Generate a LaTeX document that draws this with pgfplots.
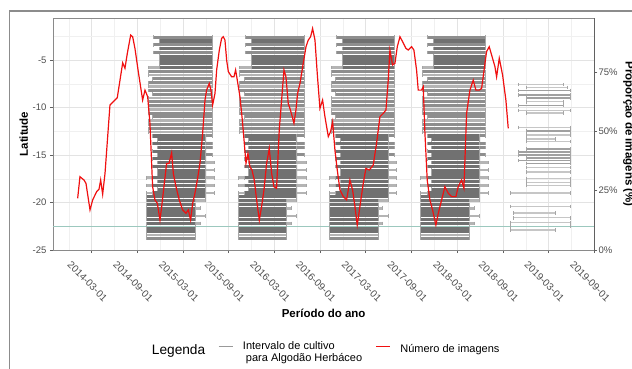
\documentclass[border=0pt]{standalone}
\usepackage{fontspec}
\setmainfont{Liberation Sans}
\usepackage{pgfplots}
\pgfplotsset{compat=1.18}
\definecolor{barD}{HTML}{717171}
\definecolor{barM}{HTML}{8E8E8E}
\definecolor{barL}{HTML}{B4B4B4}
\definecolor{nineM}{HTML}{A0A0A0}
\definecolor{nineL}{HTML}{C6C6C6}
\definecolor{capc}{HTML}{A6A6A6}
\definecolor{gridc}{HTML}{E3E3E3}
\definecolor{gridm}{HTML}{F0F0F0}
\definecolor{axc}{HTML}{8A8A8A}
\definecolor{tickc}{HTML}{4D4D4D}
\definecolor{refl}{HTML}{9CC8BE}
\definecolor{redl}{HTML}{F01010}
\definecolor{framec}{HTML}{8C8C8C}
\definecolor{keyc}{HTML}{999999}
\begin{document}
\begin{tikzpicture}
\begin{axis}[
  at={(53pt,-250pt)}, anchor=south west,
  scale only axis, width=541.3pt, height=232pt,
  xmin=-3.08, xmax=68, ymin=-25, ymax=-0.58,
  xtick={2,8,...,68},
  xticklabels={2014-03-01,2014-09-01,2015-03-01,2015-09-01,2016-03-01,2016-09-01,2017-03-01,2017-09-01,2018-03-01,2018-09-01,2019-03-01,2019-09-01},
  minor xtick={-1,5,...,65},
  ytick={-25,-20,-15,-10,-5},
  yticklabels={-25,-20,-15,-10,-5},
  minor ytick={-22.5,-17.5,-12.5,-7.5,-2.5},
  xtick pos=bottom, ytick pos=left,
  tick align=outside,
  major tick length=3pt, minor tick length=0pt,
  grid=both,
  major grid style={gridc, line width=0.7pt},
  minor grid style={gridm, line width=0.45pt},
  axis line style={axc, line width=0.8pt},
  tick style={axc!70!black, line width=0.7pt},
  yticklabel style={font=\fontsize{9.5}{10}\selectfont, color=tickc},
  xticklabel style={font=\fontsize{10}{11}\selectfont, color=tickc, anchor=center, xshift=-4.2pt, yshift=-28.5pt, rotate=-45},
  every axis x label/.style={at={(axis description cs:0.5,-0.2716)}, anchor=center, font=\fontsize{11.5}{12}\selectfont\bfseries},
  every axis y label/.style={at={(axis description cs:-0.0541,0.5)}, anchor=center, rotate=90, font=\fontsize{11.5}{12}\selectfont\bfseries},
  xlabel={Período do ano},
  ylabel={Latitude},
]
% light intervals
\addplot[barL, line width=2.6pt, mark=|, mark size=1.8pt, mark options={capc, line width=0.4pt}, empty line=jump] table {
9.4 -6.6
17.8 -6.6

9.4 -7.8
17.8 -7.8

9.4 -9.0
17.8 -9.0

9.4 -10.2
17.8 -10.2

9.4 -11.4
17.8 -11.4

9.4 -12.6
17.8 -12.6

16.9 -15.8
18.15 -15.8

16.9 -16.6
18.15 -16.6

16.9 -17.4
18.15 -17.4

16.9 -18.2
18.15 -18.2

16.9 -19.0
18.15 -19.0

9.2 -17.4
10.0 -17.4

9.2 -18.2
10.0 -18.2

9.2 -19.0
10.0 -19.0

15.6 -19.8
16.9 -19.8

15.6 -20.6
16.2 -20.6

15.6 -21.4
16.9 -21.4

15.6 -22.2
16.2 -22.2

9.2 -23.4
15.6 -23.4

9.4 -5.8
10.9 -5.8

21.4 -6.6
29.85 -6.6

21.4 -7.8
29.85 -7.8

21.4 -9.0
29.85 -9.0

21.4 -10.2
29.85 -10.2

21.4 -11.4
29.85 -11.4

21.4 -12.6
29.85 -12.6

28.9 -15.8
30.2 -15.8

28.9 -16.6
30.2 -16.6

28.9 -17.4
30.2 -17.4

28.9 -18.2
30.2 -18.2

28.9 -19.0
30.2 -19.0

21.2 -17.4
22.0 -17.4

21.2 -18.2
22.0 -18.2

21.2 -19.0
22.0 -19.0

27.6 -19.8
28.9 -19.8

27.6 -20.6
28.2 -20.6

27.6 -21.4
28.9 -21.4

27.6 -22.2
28.2 -22.2

21.2 -23.4
27.6 -23.4

21.4 -5.8
22.9 -5.8

33.4 -6.6
41.7 -6.6

33.4 -7.8
41.7 -7.8

33.4 -9.0
41.7 -9.0

33.4 -10.2
41.7 -10.2

33.4 -11.4
41.7 -11.4

33.4 -12.6
41.7 -12.6

40.9 -15.8
42.05 -15.8

40.9 -16.6
42.05 -16.6

40.9 -17.4
42.05 -17.4

40.9 -18.2
42.05 -18.2

40.9 -19.0
42.05 -19.0

33.2 -17.4
34.0 -17.4

33.2 -18.2
34.0 -18.2

33.2 -19.0
34.0 -19.0

39.6 -19.8
40.9 -19.8

39.6 -20.6
40.2 -20.6

39.6 -21.4
40.9 -21.4

39.6 -22.2
40.2 -22.2

33.2 -23.4
39.6 -23.4

33.4 -5.8
34.9 -5.8

45.4 -6.6
53.7 -6.6

45.4 -7.8
53.7 -7.8

45.4 -9.0
53.7 -9.0

45.4 -10.2
53.7 -10.2

45.4 -11.4
53.7 -11.4

45.4 -12.6
53.7 -12.6

52.9 -15.8
54.05 -15.8

52.9 -16.6
54.05 -16.6

52.9 -17.4
54.05 -17.4

52.9 -18.2
54.05 -18.2

52.9 -19.0
54.05 -19.0

45.2 -17.4
46.0 -17.4

45.2 -18.2
46.0 -18.2

45.2 -19.0
46.0 -19.0

51.6 -19.8
52.9 -19.8

51.6 -20.6
52.2 -20.6

51.6 -21.4
52.9 -21.4

51.6 -22.2
52.2 -22.2

45.2 -23.4
51.6 -23.4

45.4 -5.8
46.9 -5.8
};
% medium intervals
\addplot[barM, line width=3.0pt, mark=|, mark size=1.8pt, mark options={capc, line width=0.4pt}, empty line=jump] table {
10.1 -2.6
17.8 -2.6

10.1 -3.4
17.8 -3.4

10.1 -4.2
17.8 -4.2

9.4 -6.2
17.8 -6.2

10.0 -7.0
17.8 -7.0

9.4 -7.4
17.8 -7.4

9.4 -8.2
17.8 -8.2

10.0 -8.6
17.8 -8.6

9.4 -9.4
17.8 -9.4

9.4 -9.8
17.8 -9.8

9.4 -10.6
17.8 -10.6

10.0 -11.0
17.8 -11.0

9.4 -11.8
17.8 -11.8

9.4 -12.2
17.8 -12.2

16.9 -13.0
17.8 -13.0

16.9 -13.8
17.8 -13.8

16.9 -14.2
17.8 -14.2

16.9 -15.0
17.8 -15.0

9.2 -23.8
15.6 -23.8

22.1 -2.6
29.85 -2.6

22.1 -3.4
29.85 -3.4

22.1 -4.2
29.85 -4.2

21.4 -6.2
29.85 -6.2

22.0 -7.0
29.85 -7.0

21.4 -7.4
29.85 -7.4

21.4 -8.2
29.85 -8.2

22.0 -8.6
29.85 -8.6

21.4 -9.4
29.85 -9.4

21.4 -9.8
29.85 -9.8

21.4 -10.6
29.85 -10.6

22.0 -11.0
29.85 -11.0

21.4 -11.8
29.85 -11.8

21.4 -12.2
29.85 -12.2

28.9 -13.0
29.85 -13.0

28.9 -13.8
29.85 -13.8

28.9 -14.2
29.85 -14.2

28.9 -15.0
29.85 -15.0

21.2 -23.8
27.6 -23.8

34.1 -2.6
41.7 -2.6

34.1 -3.4
41.7 -3.4

34.1 -4.2
41.7 -4.2

33.4 -6.2
41.7 -6.2

34.0 -7.0
41.7 -7.0

33.4 -7.4
41.7 -7.4

33.4 -8.2
41.7 -8.2

34.0 -8.6
41.7 -8.6

33.4 -9.4
41.7 -9.4

33.4 -9.8
41.7 -9.8

33.4 -10.6
41.7 -10.6

34.0 -11.0
41.7 -11.0

33.4 -11.8
41.7 -11.8

33.4 -12.2
41.7 -12.2

40.9 -13.0
41.7 -13.0

40.9 -13.8
41.7 -13.8

40.9 -14.2
41.7 -14.2

40.9 -15.0
41.7 -15.0

33.2 -23.8
39.6 -23.8

46.1 -2.6
53.7 -2.6

46.1 -3.4
53.7 -3.4

46.1 -4.2
53.7 -4.2

45.4 -6.2
53.7 -6.2

46.0 -7.0
53.7 -7.0

45.4 -7.4
53.7 -7.4

45.4 -8.2
53.7 -8.2

46.0 -8.6
53.7 -8.6

45.4 -9.4
53.7 -9.4

45.4 -9.8
53.7 -9.8

45.4 -10.6
53.7 -10.6

46.0 -11.0
53.7 -11.0

45.4 -11.8
53.7 -11.8

45.4 -12.2
53.7 -12.2

52.9 -13.0
53.7 -13.0

52.9 -13.8
53.7 -13.8

52.9 -14.2
53.7 -14.2

52.9 -15.0
53.7 -15.0

45.2 -23.8
51.6 -23.8
};
% dark intervals
\addplot[barD, line width=3.3pt, mark=|, mark size=1.8pt, mark options={capc, line width=0.4pt}, empty line=jump] table {
10.9 -3.0
17.8 -3.0

10.9 -3.8
17.8 -3.8

10.9 -4.6
17.8 -4.6

10.9 -5.0
17.8 -5.0

10.9 -5.4
17.8 -5.4

10.9 -5.8
17.8 -5.8

10.0 -13.0
16.9 -13.0

10.6 -13.4
16.9 -13.4

10.0 -13.8
16.9 -13.8

10.6 -14.2
16.9 -14.2

10.0 -14.6
16.9 -14.6

10.6 -15.0
16.9 -15.0

10.0 -15.4
16.9 -15.4

10.6 -15.8
16.9 -15.8

10.0 -16.2
16.9 -16.2

10.6 -16.6
16.9 -16.6

10.6 -17.0
16.9 -17.0

10.0 -17.4
16.9 -17.4

10.6 -17.8
16.9 -17.8

10.0 -18.2
16.9 -18.2

10.6 -18.6
16.9 -18.6

10.0 -19.0
16.9 -19.0

9.2 -19.4
16.9 -19.4

9.2 -19.8
15.6 -19.8

9.2 -20.2
15.6 -20.2

9.2 -20.6
15.6 -20.6

9.2 -21.0
15.6 -21.0

9.2 -21.4
15.6 -21.4

9.2 -21.8
15.6 -21.8

9.2 -22.2
15.6 -22.2

9.2 -22.6
15.6 -22.6

9.2 -23.0
15.6 -23.0

22.9 -3.0
29.85 -3.0

22.9 -3.8
29.85 -3.8

22.9 -4.6
29.85 -4.6

22.9 -5.0
29.85 -5.0

22.9 -5.4
29.85 -5.4

22.9 -5.8
29.85 -5.8

22.0 -13.0
28.9 -13.0

22.6 -13.4
28.9 -13.4

22.0 -13.8
28.9 -13.8

22.6 -14.2
28.9 -14.2

22.0 -14.6
28.9 -14.6

22.6 -15.0
28.9 -15.0

22.0 -15.4
28.9 -15.4

22.6 -15.8
28.9 -15.8

22.0 -16.2
28.9 -16.2

22.6 -16.6
28.9 -16.6

22.6 -17.0
28.9 -17.0

22.0 -17.4
28.9 -17.4

22.6 -17.8
28.9 -17.8

22.0 -18.2
28.9 -18.2

22.6 -18.6
28.9 -18.6

22.0 -19.0
28.9 -19.0

21.2 -19.4
28.9 -19.4

21.2 -19.8
27.6 -19.8

21.2 -20.2
27.6 -20.2

21.2 -20.6
27.6 -20.6

21.2 -21.0
27.6 -21.0

21.2 -21.4
27.6 -21.4

21.2 -21.8
27.6 -21.8

21.2 -22.2
27.6 -22.2

21.2 -22.6
27.6 -22.6

21.2 -23.0
27.6 -23.0

34.9 -3.0
41.7 -3.0

34.9 -3.8
41.7 -3.8

34.9 -4.6
41.7 -4.6

34.9 -5.0
41.7 -5.0

34.9 -5.4
41.7 -5.4

34.9 -5.8
41.7 -5.8

34.0 -13.0
40.9 -13.0

34.6 -13.4
40.9 -13.4

34.0 -13.8
40.9 -13.8

34.6 -14.2
40.9 -14.2

34.0 -14.6
40.9 -14.6

34.6 -15.0
40.9 -15.0

34.0 -15.4
40.9 -15.4

34.6 -15.8
40.9 -15.8

34.0 -16.2
40.9 -16.2

34.6 -16.6
40.9 -16.6

34.6 -17.0
40.9 -17.0

34.0 -17.4
40.9 -17.4

34.6 -17.8
40.9 -17.8

34.0 -18.2
40.9 -18.2

34.6 -18.6
40.9 -18.6

34.0 -19.0
40.9 -19.0

33.2 -19.4
40.9 -19.4

33.2 -19.8
39.6 -19.8

33.2 -20.2
39.6 -20.2

33.2 -20.6
39.6 -20.6

33.2 -21.0
39.6 -21.0

33.2 -21.4
39.6 -21.4

33.2 -21.8
39.6 -21.8

33.2 -22.2
39.6 -22.2

33.2 -22.6
39.6 -22.6

33.2 -23.0
39.6 -23.0

46.9 -3.0
53.7 -3.0

46.9 -3.8
53.7 -3.8

46.9 -4.6
53.7 -4.6

46.9 -5.0
53.7 -5.0

46.9 -5.4
53.7 -5.4

46.9 -5.8
53.7 -5.8

46.0 -13.0
52.9 -13.0

46.6 -13.4
52.9 -13.4

46.0 -13.8
52.9 -13.8

46.6 -14.2
52.9 -14.2

46.0 -14.6
52.9 -14.6

46.6 -15.0
52.9 -15.0

46.0 -15.4
52.9 -15.4

46.6 -15.8
52.9 -15.8

46.0 -16.2
52.9 -16.2

46.6 -16.6
52.9 -16.6

46.6 -17.0
52.9 -17.0

46.0 -17.4
52.9 -17.4

46.6 -17.8
52.9 -17.8

46.0 -18.2
52.9 -18.2

46.6 -18.6
52.9 -18.6

46.0 -19.0
52.9 -19.0

45.2 -19.4
52.9 -19.4

45.2 -19.8
51.6 -19.8

45.2 -20.2
51.6 -20.2

45.2 -20.6
51.6 -20.6

45.2 -21.0
51.6 -21.0

45.2 -21.4
51.6 -21.4

45.2 -21.8
51.6 -21.8

45.2 -22.2
51.6 -22.2

45.2 -22.6
51.6 -22.6

45.2 -23.0
51.6 -23.0
};
% 2019 intervals, light
\addplot[nineL, line width=1.4pt, mark=|, mark size=1.8pt, mark options={capc, line width=0.4pt}, empty line=jump] table {
58.0 -7.6
63.9 -7.6

59.1 -7.9
64.4 -7.9

59.1 -9.4
63.9 -9.4

58.0 -10.3
64.9 -10.3

59.1 -10.6
63.9 -10.6

58.0 -12.1
64.9 -12.1

59.1 -12.9
64.9 -12.9

59.1 -13.3
62.8 -13.3

59.1 -13.6
64.9 -13.6

59.1 -16.3
64.9 -16.3

59.1 -16.8
64.9 -16.8

59.1 -17.5
64.9 -17.5

59.1 -17.9
64.9 -17.9

59.1 -18.2
64.9 -18.2

56.9 -19.0
64.9 -19.0

57.0 -20.4
64.9 -20.4

57.3 -21.1
62.8 -21.1

57.3 -21.6
64.9 -21.6

57.0 -22.1
64.9 -22.1

57.0 -22.5
64.9 -22.5

57.0 -22.9
62.8 -22.9
};
% 2019 intervals, denser
\addplot[nineM, line width=1.6pt, mark=|, mark size=1.8pt, mark options={capc, line width=0.4pt}, empty line=jump] table {
58.0 -8.2
64.9 -8.2

58.0 -8.7
64.9 -8.7

59.1 -9.0
64.9 -9.0

58.0 -9.8
63.9 -9.8

59.1 -12.5
64.9 -12.5

59.1 -14.4
64.9 -14.4

58.0 -14.7
64.9 -14.7

58.0 -15.0
64.9 -15.0

59.1 -15.3
64.9 -15.3

58.0 -15.6
64.9 -15.6

59.1 -15.9
64.9 -15.9
};
\addplot[refl, line width=0.8pt] coordinates {(-3.08,-22.47) (68,-22.47)};
\end{axis}
\begin{axis}[
  at={(53pt,-250pt)}, anchor=south west,
  scale only axis, width=541.3pt, height=232pt,
  xmin=-3.08, xmax=68, ymin=0, ymax=97.8,
  axis x line=none, axis y line*=right,
  ytick={0,25,50,75}, yticklabels={0\%,25\%,50\%,75\%},
  tick align=outside, major tick length=3pt,
  axis line style={axc!70!black, line width=0.8pt},
  tick style={axc!70!black, line width=0.7pt},
  yticklabel style={font=\fontsize{9.5}{10}\selectfont, color=tickc, inner sep=1pt},
  every axis y label/.style={at={(axis description cs:1.0632,0.5)}, anchor=center, rotate=-90, font=\fontsize{11.5}{12}\selectfont\bfseries},
  ylabel={Proporção de imagens (\%)},
  legend columns=2,
  legend image code/.code={\draw[#1] (0pt,3pt) -- (14pt,3pt);},
  legend style={at={(axis description cs:0.3048,-0.4285)}, anchor=west, draw=none, fill=none, inner sep=0pt, outer sep=0pt, font=\fontsize{11}{12}\selectfont, nodes={inner sep=0pt}, /tikz/every odd column/.append style={column sep=9.7pt}, /tikz/every even column/.append style={column sep=13.3pt}},
]
\addlegendimage{color=keyc, line width=1.3pt}
\addlegendentry{\begin{tabular}{@{}l@{}}Intervalo de cultivo\\\hspace{3pt}para Algodão Herbáceo\end{tabular}}
\addplot[redl, line width=1.2pt, mark=none] table {
0.16 21.8
0.46 30.9
0.99 29.5
1.25 28.1
1.78 16.9
2.13 21.1
2.65 24.6
2.96 25.6
3.18 29.5
3.44 23.5
3.75 32.3
4.40 61.1
5.06 63.2
5.36 64.2
6.07 78.9
6.37 76.6
6.68 82.9
7.12 90.6
7.38 89.9
7.68 85.0
8.12 75.2
8.69 63.2
9.00 67.4
9.35 64.6
9.65 53.4
10.00 26.7
10.31 21.1
10.62 19.7
10.97 12.6
11.19 18.3
11.49 26.7
11.84 36.5
12.15 36.5
12.50 41.0
12.72 32.3
13.07 26.7
13.50 21.1
13.94 16.9
14.38 15.5
14.69 16.9
14.99 12.6
15.26 19.7
15.56 23.9
15.87 29.5
16.22 36.5
16.57 49.2
16.88 63.2
17.09 67.4
17.44 70.2
17.66 67.4
17.88 61.1
18.19 66.0
18.41 75.9
18.76 84.3
19.06 89.2
19.28 89.9
19.50 88.5
19.72 80.1
19.94 75.2
20.38 73.0
20.68 73.0
20.90 75.9
21.12 71.6
21.47 64.6
21.78 54.8
22.04 45.0
22.26 36.5
22.52 40.7
22.78 35.1
23.05 33.7
23.35 29.5
23.66 21.1
24.01 12.6
24.31 18.3
24.62 25.3
24.97 36.5
25.32 42.8
25.63 32.3
25.93 26.7
26.28 26.0
26.63 50.6
26.94 63.2
27.25 75.9
27.51 73.0
27.81 61.8
28.03 59.7
28.34 56.2
28.56 53.4
28.82 59.0
29.04 66.0
29.35 70.2
29.78 78.7
30.14 85.7
30.44 88.5
30.75 89.9
31.01 93.4
31.32 88.5
31.62 74.4
31.97 59.7
32.32 63.2
32.63 56.2
33.07 47.8
33.37 49.9
33.64 54.1
33.94 42.1
34.25 33.7
34.60 25.3
35.04 22.5
35.47 21.1
35.91 29.5
36.26 25.3
36.57 18.3
36.87 10.5
37.22 18.3
37.66 28.1
38.01 34.4
38.45 33.7
38.97 35.8
39.41 45.0
39.85 56.2
40.29 57.6
40.64 59.0
40.94 71.6
41.16 84.3
41.51 78.0
41.82 78.7
42.13 85.7
42.48 89.9
42.83 87.8
43.26 85.0
43.57 84.3
44.01 85.7
44.31 84.3
44.66 75.9
44.88 67.4
45.32 67.4
45.54 68.8
45.76 49.2
46.06 29.5
46.41 21.1
46.76 16.9
47.20 10.5
47.51 15.5
47.95 21.1
48.38 26.7
48.82 23.9
49.26 22.5
49.83 22.5
50.13 26.7
50.57 29.5
50.88 26.0
51.23 57.6
51.67 67.4
52.10 71.6
52.45 67.4
52.89 67.4
53.20 68.1
53.50 75.2
53.85 83.6
54.20 85.7
54.64 80.8
54.95 77.3
55.17 73.0
55.52 80.8
55.96 73.7
56.13 69.5
56.39 63.2
56.70 51.3
};
\addlegendentry{Número de imagens}
\end{axis}
\pgfresetboundingbox
\useasboundingbox (0pt,0pt) rectangle (632pt,-369pt);
\draw[framec, line width=1.3pt] (9.5pt,-375pt) -- (9.5pt,-11pt) -- (640pt,-11pt);
\node[anchor=base west, font=\fontsize{13.7}{14}\selectfont, inner sep=0pt] at (151.7pt,-354pt) {Legenda};
\end{tikzpicture}
\end{document}
